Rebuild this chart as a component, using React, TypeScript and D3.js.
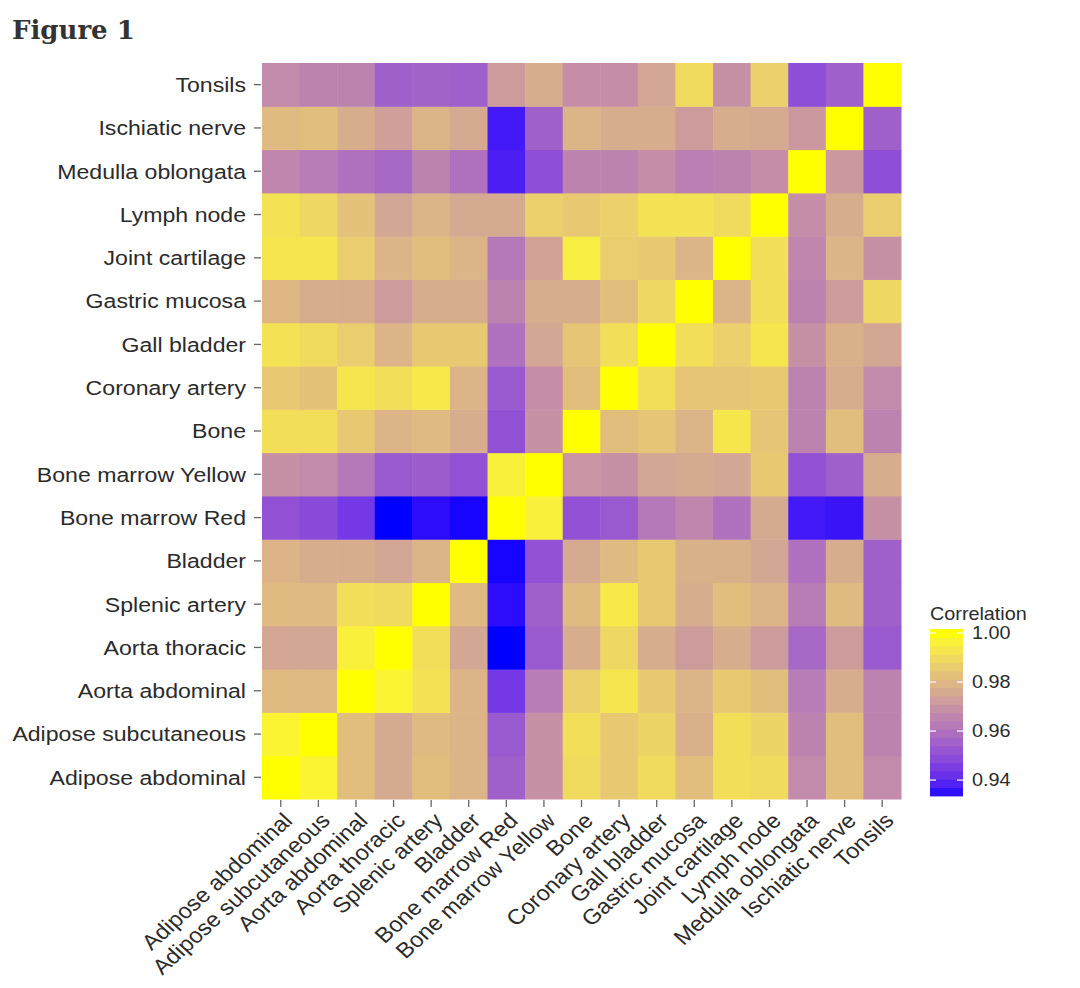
import React from "react";
import * as d3 from "d3";

const categories = [
  "Adipose abdominal",
  "Adipose subcutaneous",
  "Aorta abdominal",
  "Aorta thoracic",
  "Splenic artery",
  "Bladder",
  "Bone marrow Red",
  "Bone marrow Yellow",
  "Bone",
  "Coronary artery",
  "Gall bladder",
  "Gastric mucosa",
  "Joint cartilage",
  "Lymph node",
  "Medulla oblongata",
  "Ischiatic nerve",
  "Tonsils",
];

// rows follow categories (y axis, bottom to top); columns follow categories (x axis)
const rowAdiposeAbdominal = [1, 0.997, 0.982, 0.976, 0.982, 0.979, 0.955, 0.969, 0.99, 0.985, 0.99, 0.982, 0.991, 0.99, 0.967, 0.982, 0.967];
const rowAdiposeSubcutaneous = [0.997, 1, 0.982, 0.976, 0.981, 0.979, 0.953, 0.969, 0.991, 0.985, 0.988, 0.978, 0.991, 0.988, 0.965, 0.982, 0.965];
const rowAortaAbdominal = [0.981, 0.981, 1, 0.997, 0.992, 0.979, 0.944, 0.963, 0.987, 0.993, 0.985, 0.979, 0.985, 0.982, 0.963, 0.977, 0.965];
const rowAortaThoracic = [0.975, 0.975, 0.996, 1, 0.991, 0.975, 0.9335, 0.953, 0.977, 0.989, 0.977, 0.972, 0.977, 0.972, 0.957, 0.972, 0.953];
const rowSplenicArtery = [0.981, 0.981, 0.991, 0.99, 1, 0.981, 0.935, 0.955, 0.981, 0.994, 0.985, 0.977, 0.982, 0.979, 0.963, 0.981, 0.955];
const rowBladder = [0.979, 0.977, 0.977, 0.975, 0.979, 1, 0.934, 0.951, 0.976, 0.981, 0.985, 0.978, 0.978, 0.975, 0.96, 0.977, 0.955];
const rowBoneMarrowRed = [0.951, 0.949, 0.944, 0.9335, 0.935, 0.934, 1, 0.996, 0.951, 0.953, 0.962, 0.966, 0.96, 0.976, 0.937, 0.936, 0.969];
const rowBoneMarrowYellow = [0.969, 0.967, 0.962, 0.953, 0.954, 0.951, 0.996, 1, 0.97, 0.969, 0.975, 0.976, 0.975, 0.985, 0.951, 0.955, 0.977];
const rowBone = [0.991, 0.991, 0.985, 0.979, 0.981, 0.977, 0.951, 0.969, 1, 0.982, 0.984, 0.979, 0.993, 0.984, 0.965, 0.982, 0.965];
const rowCoronaryArtery = [0.985, 0.983, 0.993, 0.991, 0.994, 0.979, 0.953, 0.968, 0.982, 1, 0.991, 0.984, 0.984, 0.985, 0.965, 0.977, 0.967];
const rowGallBladder = [0.992, 0.99, 0.986, 0.979, 0.985, 0.985, 0.96, 0.975, 0.984, 0.991, 1, 0.991, 0.987, 0.993, 0.969, 0.978, 0.975];
const rowGastricMucosa = [0.98, 0.977, 0.977, 0.972, 0.977, 0.977, 0.965, 0.977, 0.977, 0.982, 0.989, 1, 0.979, 0.991, 0.965, 0.972, 0.989];
const rowJointCartilage = [0.993, 0.993, 0.986, 0.979, 0.982, 0.979, 0.962, 0.974, 0.995, 0.986, 0.985, 0.979, 1, 0.991, 0.966, 0.979, 0.969];
const rowLymphNode = [0.992, 0.989, 0.983, 0.975, 0.979, 0.976, 0.976, 0.987, 0.985, 0.987, 0.992, 0.992, 0.99, 1, 0.968, 0.977, 0.986];
const rowMedullaOblongata = [0.966, 0.963, 0.96, 0.957, 0.965, 0.96, 0.938, 0.95, 0.965, 0.965, 0.968, 0.964, 0.965, 0.968, 1, 0.971, 0.95];
const rowIschiaticNerve = [0.981, 0.982, 0.977, 0.973, 0.979, 0.976, 0.937, 0.955, 0.979, 0.977, 0.977, 0.972, 0.977, 0.976, 0.971, 1, 0.955];
const rowTonsils = [0.967, 0.965, 0.965, 0.955, 0.956, 0.955, 0.972, 0.977, 0.968, 0.968, 0.975, 0.99, 0.969, 0.987, 0.95, 0.955, 1];

const matrixRows = [
  rowAdiposeAbdominal,
  rowAdiposeSubcutaneous,
  rowAortaAbdominal,
  rowAortaThoracic,
  rowSplenicArtery,
  rowBladder,
  rowBoneMarrowRed,
  rowBoneMarrowYellow,
  rowBone,
  rowCoronaryArtery,
  rowGallBladder,
  rowGastricMucosa,
  rowJointCartilage,
  rowLymphNode,
  rowMedullaOblongata,
  rowIschiaticNerve,
  rowTonsils,
];

const legendTicks = [0.94, 0.96, 0.98, 1.0];
const colorDomain = [0.9335, 1.0];
const legendTitle = "Correlation";
const figureTitle = "Figure 1";

const W = 1080;
const H = 988;
const plot = { left: 262, right: 901, top: 63, bottom: 799 };
const legend = { x: 930, w: 33, top: 633, bottom: 796, bins: 20, overTop: 1.0015 };
const STRETCH = 1.1;

export default function App() {
  const x = d3.scaleBand<string>().domain(categories).range([plot.left, plot.right]);
  const y = d3.scaleBand<string>().domain(categories).range([plot.bottom, plot.top]);
  const color = d3
    .scaleLinear<string>()
    .domain(colorDomain)
    .range(["#0000ff", "#ffff00"])
    .interpolate(d3.interpolateLab)
    .clamp(true);

  const ly = d3.scaleLinear().domain(colorDomain).range([legend.bottom, legend.top]);
  const binEdges = d3
    .range(legend.bins + 1)
    .map((i) => colorDomain[0] + ((legend.overTop - colorDomain[0]) * i) / legend.bins);

  const cells: { r: string; c: string; v: number }[] = [];
  matrixRows.forEach((row, ri) => {
    row.forEach((v, ci) => cells.push({ r: categories[ri], c: categories[ci], v }));
  });

  const sans = "'Liberation Sans', Arial, Helvetica, sans-serif";
  const axisColor = "#2b2b2b";
  const tickColor = "#666";

  return (
    <svg
      width={W}
      height={H}
      style={{ position: "absolute", left: 0, top: 0, background: "#fff" }}
    >
      <text
        x={12}
        y={39}
        fontFamily="'DejaVu Serif', Georgia, serif"
        fontWeight="bold"
        fontSize={26}
        fill="#333"
      >
        {figureTitle}
      </text>

      {cells.map((d, i) => (
        <rect
          key={i}
          x={x(d.c)!}
          y={y(d.r)!}
          width={x.bandwidth() + 0.5}
          height={y.bandwidth() + 0.5}
          fill={color(d.v)}
        />
      ))}

      {/* y axis */}
      {categories.map((c) => {
        const cy = y(c)! + y.bandwidth() / 2;
        return (
          <g key={"y" + c}>
            <line x1={plot.left - 8} x2={plot.left - 1} y1={cy} y2={cy} stroke={tickColor} strokeWidth={1.3} />
            <text
              transform={`translate(${plot.left - 16},${cy}) scale(${STRETCH},1)`}
              dy="0.35em"
              textAnchor="end"
              fontFamily={sans}
              fontSize={21}
              fill={axisColor}
            >
              {c}
            </text>
          </g>
        );
      })}

      {/* x axis */}
      {categories.map((c) => {
        const cx = x(c)! + x.bandwidth() / 2;
        return (
          <g key={"x" + c}>
            <line x1={cx} x2={cx} y1={plot.bottom + 1} y2={plot.bottom + 8} stroke={tickColor} strokeWidth={1.3} />
            <text
              transform={`translate(${cx + 13},${plot.bottom + 23}) scale(${STRETCH},1) rotate(-45)`}
              textAnchor="end"
              fontFamily={sans}
              fontSize={21.5}
              fill={axisColor}
            >
              {c}
            </text>
          </g>
        );
      })}

      {/* legend */}
      <text
        transform={`translate(${legend.x},620) scale(${STRETCH},1)`}
        fontFamily={sans}
        fontSize={18}
        fill={axisColor}
      >
        {legendTitle}
      </text>
      {binEdges.slice(0, -1).map((v0, i) => {
        const v1 = binEdges[i + 1];
        const yTop = ly(v1);
        const yBot = ly(v0);
        return (
          <rect
            key={"lb" + i}
            x={legend.x}
            y={yTop - 0.4}
            width={legend.w}
            height={yBot - yTop + 0.8}
            fill={color((v0 + v1) / 2)}
          />
        );
      })}
      {legendTicks.map((t) => (
        <g key={"lt" + t}>
          <line x1={legend.x} x2={legend.x + 6} y1={ly(t)} y2={ly(t)} stroke="#fff" strokeWidth={1.2} />
          <line x1={legend.x + legend.w - 6} x2={legend.x + legend.w} y1={ly(t)} y2={ly(t)} stroke="#fff" strokeWidth={1.2} />
          <text
            transform={`translate(${legend.x + legend.w + 9},${ly(t)}) scale(${STRETCH},1)`}
            dy="0.35em"
            fontFamily={sans}
            fontSize={18}
            fill={axisColor}
          >
            {t.toFixed(2)}
          </text>
        </g>
      ))}
    </svg>
  );
}
